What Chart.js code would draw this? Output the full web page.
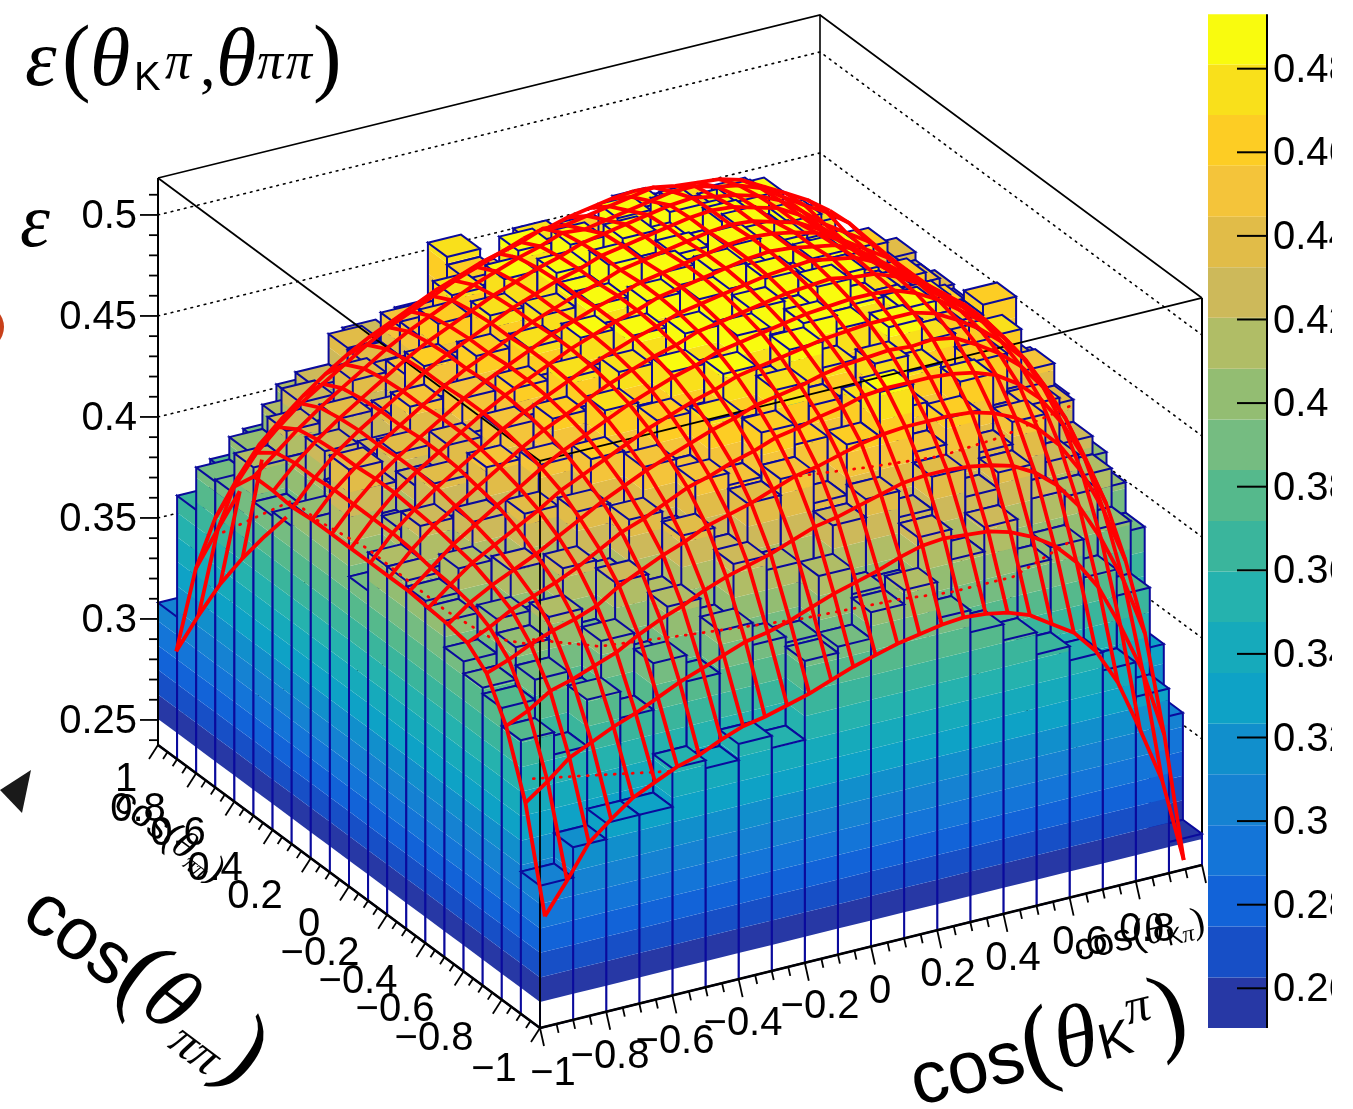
<!DOCTYPE html>
<html>
<head>
<meta charset="utf-8">
<script src="https://cdn.jsdelivr.net/npm/chart.js@4"></script>
<style>
html, body { margin: 0; padding: 0; background: #fff; overflow: hidden; }
canvas { display: block; }
</style>
</head>
<body>
<canvas id="lego" width="1353" height="1109"></canvas>
<script>
// bin edges of both cos axes
const binEdges = [-1,-0.9,-0.8,-0.7,-0.6,-0.5,-0.4,-0.3,-0.2,-0.1,0,0.1,0.2,0.3,0.4,0.5,0.6,0.7,0.8,0.9,1];

// efficiency per bin, one row per cos(theta_pipi) bin, one column per cos(theta_Kpi) bin
const binRows = [
[.308,.323,.331,.331,.350,.346,.354,.348,.387,.390,.403,.410,.392,.381,.373,.362,.355,.346,.329,.253],
[.373,.362,.385,.372,.395,.382,.403,.392,.389,.418,.405,.402,.425,.410,.422,.398,.404,.385,.372,.306],
[.382,.392,.378,.403,.388,.412,.398,.425,.418,.407,.432,.441,.428,.444,.430,.438,.421,.418,.398,.333],
[.385,.401,.412,.396,.421,.409,.436,.422,.444,.452,.436,.461,.483,.449,.462,.441,.452,.428,.417,.384],
[.391,.408,.401,.425,.415,.441,.428,.452,.446,.468,.458,.449,.471,.463,.452,.469,.444,.449,.426,.399],
[.404,.398,.421,.413,.442,.431,.456,.447,.471,.459,.478,.466,.458,.479,.471,.457,.468,.441,.437,.407],
[.407,.419,.409,.438,.428,.457,.445,.468,.462,.483,.472,.487,.474,.466,.486,.475,.455,.469,.448,.409],
[.410,.404,.431,.422,.451,.441,.470,.459,.481,.474,.491,.478,.489,.482,.473,.484,.468,.455,.445,.422],
[.410,.426,.418,.447,.437,.463,.456,.478,.471,.489,.482,.493,.485,.496,.483,.478,.476,.462,.467,.431],
[.391,.417,.436,.428,.455,.449,.472,.466,.485,.479,.495,.487,.497,.484,.490,.478,.463,.463,.440,.425],
[.444,.409,.428,.444,.438,.464,.458,.481,.476,.491,.484,.498,.490,.483,.492,.480,.467,.452,.445,.423],
[.406,.423,.437,.426,.456,.447,.473,.469,.486,.480,.494,.488,.499,.491,.480,.484,.461,.462,.440,.430],
[.406,.414,.429,.449,.441,.466,.461,.478,.483,.495,.486,.492,.484,.497,.486,.472,.473,.448,.448,.432],
[.395,.428,.419,.438,.458,.452,.475,.468,.488,.479,.497,.490,.482,.493,.482,.485,.462,.463,.443,.434],
[.393,.411,.433,.427,.447,.468,.457,.482,.474,.491,.484,.478,.495,.486,.492,.471,.472,.451,.442,.432],
[.410,.424,.416,.441,.432,.455,.471,.463,.485,.477,.468,.489,.480,.474,.482,.482,.461,.448,.441,.436],
[.390,.398,.427,.418,.438,.4525,.452,.468,.462,.478,.471,.461,.482,.469,.472,.475,.452,.442,.436,.425],
[.389,.400,.412,.424,.439,.418,.444,.472,.456,.448,.463,.466,.464,.458,.469,.455,.451,.436,.428,.420],
[.368,.382,.393,.411,.402,.431,.413,.428,.421,.437,.453,.441,.436,.448,.431,.439,.420,.410,.400,.400],
[.308,.336,.352,.368,.381,.389,.397,.392,.404,.412,.419,.445,.432,.421,.428,.450,.417,.405,.388,.330]
];

// fit surface, 20 lines along cos(theta_Kpi), 30 lines along cos(theta_pipi)
const fitKpi = [-.965,-.898,-.832,-.765,-.699,-.632,-.565,-.499,-.432,-.366,-.3,-.233,-.166,-.1,-.033,.034,.1,.167,.234,.3,.367,.433,.5,.566,.633,.7,.766,.833,.9,.965];
const fitPipi = [-.965,-.863,-.762,-.66,-.559,-.457,-.355,-.254,-.152,-.051,.051,.152,.254,.355,.457,.559,.66,.762,.863,.965];
const fitRows = [
[.289,.304,.320,.329,.337,.342,.347,.350,.355,.359,.361,.364,.367,.371,.375,.378,.381,.383,.385,.386,.385,.383,.379,.372,.365,.353,.335,.309,.281,.239],
[.338,.346,.355,.360,.365,.369,.374,.379,.383,.387,.391,.393,.396,.400,.404,.407,.410,.414,.417,.418,.417,.416,.413,.408,.401,.390,.375,.353,.328,.294],
[.369,.374,.381,.384,.388,.392,.398,.403,.407,.412,.416,.419,.422,.426,.430,.432,.435,.438,.441,.442,.442,.441,.439,.436,.430,.421,.408,.389,.366,.337],
[.388,.392,.397,.401,.404,.408,.415,.420,.425,.429,.434,.437,.440,.444,.448,.450,.453,.456,.458,.459,.459,.459,.458,.455,.450,.442,.431,.415,.393,.366],
[.396,.401,.407,.411,.415,.420,.426,.432,.436,.441,.446,.449,.453,.456,.460,.462,.465,.467,.470,.471,.471,.471,.470,.468,.464,.457,.447,.432,.412,.387],
[.398,.406,.412,.417,.422,.428,.434,.440,.445,.450,.454,.458,.462,.465,.469,.471,.473,.476,.478,.479,.480,.479,.480,.478,.472,.465,.456,.443,.425,.401],
[.399,.408,.416,.422,.428,.434,.441,.446,.451,.456,.461,.465,.469,.472,.476,.478,.480,.482,.484,.485,.486,.486,.486,.483,.477,.470,.461,.450,.433,.412],
[.400,.409,.418,.425,.432,.438,.445,.451,.456,.461,.466,.470,.474,.477,.481,.483,.485,.487,.489,.490,.491,.491,.490,.486,.480,.472,.464,.453,.439,.421],
[.400,.411,.420,.427,.434,.441,.448,.454,.459,.464,.469,.473,.477,.480,.484,.486,.488,.490,.492,.493,.494,.492,.491,.487,.481,.472,.464,.455,.442,.426],
[.400,.412,.421,.429,.436,.443,.450,.456,.461,.466,.471,.475,.479,.482,.486,.488,.490,.492,.494,.495,.496,.494,.492,.487,.480,.471,.463,.455,.443,.430],
[.400,.412,.422,.430,.437,.444,.451,.457,.462,.467,.472,.476,.480,.483,.487,.489,.491,.493,.495,.496,.495,.493,.491,.486,.478,.468,.461,.453,.442,.431],
[.400,.412,.422,.430,.437,.444,.451,.457,.462,.467,.472,.476,.480,.483,.487,.489,.491,.493,.495,.496,.495,.493,.490,.484,.475,.465,.458,.451,.441,.431],
[.400,.412,.421,.429,.436,.443,.450,.456,.461,.466,.471,.475,.479,.482,.486,.488,.490,.492,.494,.495,.494,.491,.488,.482,.473,.463,.456,.449,.439,.430],
[.399,.411,.421,.429,.436,.443,.450,.456,.461,.466,.471,.475,.479,.482,.486,.488,.490,.492,.494,.495,.494,.491,.488,.482,.473,.464,.457,.450,.440,.430],
[.400,.411,.420,.428,.435,.442,.449,.455,.460,.465,.470,.474,.478,.481,.485,.487,.489,.491,.493,.494,.492,.490,.487,.482,.474,.465,.458,.451,.440,.428],
[.400,.409,.418,.426,.433,.440,.447,.453,.458,.463,.468,.472,.476,.479,.483,.482,.484,.486,.488,.490,.490,.487,.485,.481,.474,.467,.461,.453,.441,.426],
[.388,.402,.412,.421,.428,.435,.442,.448,.453,.458,.463,.467,.471,.474,.478,.477,.479,.481,.483,.485,.483,.482,.481,.478,.472,.466,.460,.452,.437,.418],
[.365,.382,.396,.406,.415,.423,.430,.436,.441,.446,.451,.455,.459,.462,.466,.468,.471,.473,.475,.476,.474,.473,.472,.469,.465,.459,.453,.441,.424,.401],
[.333,.350,.366,.379,.388,.396,.404,.410,.415,.420,.425,.429,.433,.436,.440,.443,.445,.448,.450,.451,.452,.452,.451,.448,.443,.435,.425,.410,.389,.364],
[.285,.300,.313,.323,.331,.338,.346,.352,.358,.363,.368,.372,.375,.379,.383,.386,.389,.392,.395,.397,.397,.396,.394,.389,.381,.370,.356,.337,.312,.282]
];

// red dotted curves: Kpi, Pipi, z per point
const dotFrontKpi = [-1,-.587];
const dotFrontZ = [.3586,.3456];
const dotMidKpi = [-1,-.8,-.536,-.185,.117,.259,.449,.621];
const dotMidZ = [.4274,.416,.411,.405,.4026,.4,.4,.4105];
const dotBackKpi = [-.194,.008,.229,.41,.63];
const dotBackZ = [.476,.472,.4686,.4706,.4779];
const dotSidePipi = [-.903,-.678,-.443,-.243,-.034,.228,.354,.804];
const dotSideZ = [.419,.407,.404,.405,.406,.4016,.4026,.3516];

// colour levels of the z axis and the palette
const zLevels = [.2505,.2626,.2748,.2869,.2990,.3112,.3233,.3354,.3476,.3597,.3718,.3840,.3961,.4082,.4204,.4325,.4446,.4568,.4689,.4810,.4930];
const bandColors = ["#2738a5","#174fc6","#1263d8","#1475d8","#1582d2","#118fcc","#0ea2c6","#16aabb","#25b2ae","#3ab59c","#55b98c","#75bc81","#93bd72","#b0bd66","#cdb95a","#e1bc48","#f4c43a","#fdcd24","#f9e01b","#f9fb0e"];

const zTicks = [.25,.3,.35,.4,.45,.5];
const zTickLabels = ["0.25","0.3","0.35","0.4","0.45","0.5"];
const zMinorTicks = [.24,.26,.27,.28,.29,.31,.32,.33,.34,.36,.37,.38,.39,.41,.42,.43,.44,.46,.47,.48,.49,.51];
const axisTicks = [-1,-.8,-.6,-.4,-.2,0,.2,.4,.6,.8,1];
const axisMinorTicks = [-.95,-.9,-.85,-.75,-.7,-.65,-.55,-.5,-.45,-.35,-.3,-.25,-.15,-.1,-.05,.05,.1,.15,.25,.3,.35,.45,.5,.55,.65,.7,.75,.85,.9,.95];
const barTicks = [.26,.28,.3,.32,.34,.36,.38,.4,.42,.44,.46,.48];
const barTickLabels = ["0.26","0.28","0.3","0.32","0.34","0.36","0.38","0.4","0.42","0.44","0.46","0.48"];
const kpiTickLabels = ["\u22121","\u22120.8","\u22120.6","\u22120.4","\u22120.2","0","0.2","0.4","0.6","0.8"];
const pipiTickLabels = ["\u22121","\u22120.8","\u22120.6","\u22120.4","\u22120.2","0","0.2","0.4","0.6","0.8","1"];

const zFloor = 0.2376, zRoof = 0.5183;
const BLUE = "#0a0a9c";

// oblique view of the box, same on every side
function project(kpi, pipi, z) {
    const u = kpi + 1, v = pipi + 1;
    return {
        x: 540 + 331 * u - 191 * v,
        y: 1028 - 81.5 * u - 141.5 * v - (z - zFloor) * 2020
    };
}

function barY(v) {
    return 1028 - (v - 0.2505) * 4180;
}

const datasets = [];

function addFill(points, color) {
    datasets.push({
        data: points, fill: "shape", backgroundColor: color,
        borderWidth: 0, pointRadius: 0, showLine: true, clip: false
    });
}

function addLine(points, color, width, dash) {
    datasets.push({
        data: points, fill: false, borderColor: color, borderWidth: width,
        borderDash: dash || [], borderCapStyle: dash ? "round" : "butt",
        pointRadius: 0, showLine: true, clip: false
    });
}

function bandOf(z) {
    let b = 0;
    for (let k = 0; k < bandColors.length; k++) {
        if (z >= zLevels[k]) b = k;
    }
    return b;
}

// side of a bar split into the colour bands, white under the lowest level
function addFace(k0, p0, k1, p1, zLow, zHigh) {
    if (zLow < zLevels[0]) {
        const top = Math.min(zHigh, zLevels[0]);
        addFill([project(k0, p0, zLow), project(k1, p1, zLow), project(k1, p1, top), project(k0, p0, top)], "#ffffff");
    }
    for (let k = 0; k < bandColors.length; k++) {
        const a = Math.max(zLow, zLevels[k]);
        const b = k === bandColors.length - 1 ? zHigh : Math.min(zHigh, zLevels[k + 1]);
        if (b > a) {
            addFill([project(k0, p0, a), project(k1, p1, a), project(k1, p1, b), project(k0, p0, b)], bandColors[k]);
        }
    }
}

// back walls and dotted grid
zTicks.forEach(z => {
    addLine([project(-1, 1, z), project(1, 1, z), project(1, -1, z)], "#000000", 1.6, [1.6, 5.2]);
});
addLine([project(-1, 1, zRoof), project(1, 1, zRoof), project(1, -1, zRoof)], "#000000", 1.6);
addLine([project(1, 1, zFloor), project(1, 1, zRoof)], "#000000", 1.6);
addLine([project(1, -1, zFloor), project(1, -1, zRoof)], "#000000", 2);

// bars from the back corner to the front corner
for (let j = binRows.length - 1; j >= 0; j--) {
    for (let i = binRows[j].length - 1; i >= 0; i--) {
        const h = binRows[j][i];
        const kLo = binEdges[i], kHi = binEdges[i + 1], pLo = binEdges[j], pHi = binEdges[j + 1];
        const nbK = i > 0 ? binRows[j][i - 1] : zFloor;
        const nbP = j > 0 ? binRows[j - 1][i] : zFloor;
        const outline = [];
        if (h > nbK) {
            addFace(kLo, pHi, kLo, pLo, nbK, h);
            outline.push(project(kLo, pHi, nbK), project(kLo, pLo, nbK), project(kLo, pLo, h), project(kLo, pHi, h), project(kLo, pHi, nbK), { x: null, y: null });
        }
        if (h > nbP) {
            addFace(kLo, pLo, kHi, pLo, nbP, h);
            outline.push(project(kLo, pLo, nbP), project(kHi, pLo, nbP), project(kHi, pLo, h), project(kLo, pLo, h), project(kLo, pLo, nbP), { x: null, y: null });
        }
        const top = [project(kLo, pLo, h), project(kHi, pLo, h), project(kHi, pHi, h), project(kLo, pHi, h)];
        addFill(top, bandColors[bandOf(h)]);
        outline.push(top[0], top[1], top[2], top[3], top[0]);
        addLine(outline, BLUE, 2);
    }
}

// front of the box, on top of the bars
addLine([project(-1, -1, zRoof), project(-1, 1, zRoof)], "#000000", 1.8);
addLine([project(-1, -1, zRoof), project(1, -1, zRoof)], "#000000", 1.8);
addLine([project(-1, -1, zFloor), project(-1, -1, zRoof)], "#000000", 1.8);

// axes and ticks
addLine([project(-1, 1, zFloor), project(-1, 1, zRoof)], "#000000", 2);
addLine([project(-1, -1, zFloor), project(1, -1, zFloor)], "#000000", 2.6);
addLine([project(-1, -1, zFloor), project(-1, 1, zFloor)], "#000000", 2.6);

function tickFrom(p, dx, dy) {
    addLine([p, { x: p.x + dx, y: p.y + dy }], "#000000", 1.8);
}
zTicks.forEach(z => tickFrom(project(-1, 1, z), -18, 0));
zMinorTicks.forEach(z => tickFrom(project(-1, 1, z), -9, 0));
axisTicks.forEach(t => {
    tickFrom(project(t, -1, zFloor), 4, 18);
    tickFrom(project(-1, t, zFloor), -9, 14);
});
axisMinorTicks.forEach(t => {
    tickFrom(project(t, -1, zFloor), 2, 9);
    tickFrom(project(-1, t, zFloor), -4.5, 7);
});

// dotted red curves
addLine(dotFrontKpi.map((k, n) => project(k, -.965, dotFrontZ[n])), "#ff0000", 2.8, [1, 8]);
addLine(dotMidKpi.map((k, n) => project(k, -.965, dotMidZ[n])), "#ff0000", 2.8, [1, 8]);
addLine(dotBackKpi.map((k, n) => project(k, -.965, dotBackZ[n])), "#ff0000", 2.8, [1, 8]);
addLine(dotSidePipi.map((p, n) => project(-.965, p, dotSideZ[n])), "#ff0000", 2.8, [1, 8]);

// fit mesh: a cell facing away stays hidden only where a facing cell covers it
function cellCorners(m, n) {
    return [
        project(fitKpi[m], fitPipi[n], fitRows[n][m]),
        project(fitKpi[m + 1], fitPipi[n], fitRows[n][m + 1]),
        project(fitKpi[m + 1], fitPipi[n + 1], fitRows[n + 1][m + 1]),
        project(fitKpi[m], fitPipi[n + 1], fitRows[n + 1][m])
    ];
}

function cellFront(m, n) {
    if (m < 0 || n < 0 || m >= fitKpi.length - 1 || n >= fitPipi.length - 1) return false;
    const q = cellCorners(m, n);
    return (q[2].x - q[0].x) * (q[3].y - q[1].y) - (q[2].y - q[0].y) * (q[3].x - q[1].x) < 0;
}

const frontCells = [];
fitRows.forEach((row, n) => {
    row.forEach((z, m) => {
        if (cellFront(m, n)) frontCells.push(cellCorners(m, n));
    });
});

function covered(a, b) {
    const px = (a.x + b.x) / 2, py = (a.y + b.y) / 2;
    return frontCells.some(q => {
        let sign = 0;
        for (let c = 0; c < 4; c++) {
            const s = q[(c + 1) % 4];
            const cross = (s.x - q[c].x) * (py - q[c].y) - (s.y - q[c].y) * (px - q[c].x);
            if (sign !== 0 && cross * sign < 0) return false;
            if (cross !== 0) sign = cross;
        }
        return true;
    });
}

fitPipi.forEach((p, n) => {
    const pts = [];
    for (let m = 0; m < fitKpi.length - 1; m++) {
        const a = project(fitKpi[m], p, fitRows[n][m]), b = project(fitKpi[m + 1], p, fitRows[n][m + 1]);
        if (cellFront(m, n) || cellFront(m, n - 1) || !covered(a, b)) {
            pts.push(a, b);
        } else {
            pts.push({ x: null, y: null });
        }
    }
    addLine(pts, "#ff0000", 3.8);
});
fitKpi.forEach((k, m) => {
    const pts = [];
    for (let n = 0; n < fitPipi.length - 1; n++) {
        const a = project(k, fitPipi[n], fitRows[n][m]), b = project(k, fitPipi[n + 1], fitRows[n + 1][m]);
        if (cellFront(m, n) || cellFront(m - 1, n) || !covered(a, b)) {
            pts.push(a, b);
        } else {
            pts.push({ x: null, y: null });
        }
    }
    addLine(pts, "#ff0000", 3.8);
});

// palette bar
bandColors.forEach((c, k) => {
    addFill([{ x: 1208, y: barY(zLevels[k]) }, { x: 1267, y: barY(zLevels[k]) }, { x: 1267, y: barY(zLevels[k + 1]) }, { x: 1208, y: barY(zLevels[k + 1]) }], c);
});
addLine([{ x: 1267, y: barY(zLevels[0]) }, { x: 1267, y: barY(zLevels[20]) }], "#000000", 2);
barTicks.forEach(v => addLine([{ x: 1237, y: barY(v) }, { x: 1267, y: barY(v) }], "#000000", 2));

// stray marks at the left border of the page
datasets.push({ data: [{ x: -18, y: 327 }], pointRadius: 22, backgroundColor: "#c8401a", borderWidth: 0, showLine: false, clip: false });
addFill([{ x: 0, y: 790 }, { x: 31, y: 770 }, { x: 22, y: 813 }], "#1a1a1a");

datasets.reverse();

const SANS = '"Liberation Sans"';
const SERIF = '"Liberation Serif"';

// text running along a baseline, mixed fonts; a piece with "at" starts at that offset
function drawRun(ctx, x, y, angle, pieces) {
    ctx.save();
    ctx.translate(x, y);
    ctx.rotate(angle * Math.PI / 180);
    ctx.textAlign = "left";
    ctx.textBaseline = "alphabetic";
    let pos = 0;
    pieces.forEach(p => {
        if (p.at !== undefined) pos = p.at;
        ctx.font = p.font;
        ctx.fillText(p.text, pos, p.dy || 0);
        pos += ctx.measureText(p.text).width + (p.gap || 0);
    });
    ctx.restore();
}

const textPlugin = {
    id: "textPlugin",
    afterDraw(chart) {
        const ctx = chart.ctx;
        ctx.save();
        ctx.fillStyle = "#000000";

        // title
        drawRun(ctx, 0, 85, 0, [
            { text: "\u03b5", font: "italic 80px " + SERIF, at: 25 },
            { text: "(", font: "86px " + SERIF, at: 62 },
            { text: "\u03b8", font: "italic 82px " + SERIF, at: 90 },
            { text: "K", font: "40px " + SANS, dy: 5, at: 134 },
            { text: "\u03c0", font: "italic 52px " + SERIF, dy: -7, at: 165 },
            { text: ",", font: "62px " + SERIF, at: 200 },
            { text: "\u03b8", font: "italic 82px " + SERIF, at: 216 },
            { text: "\u03c0", font: "italic 52px " + SERIF, dy: -7, at: 257 },
            { text: "\u03c0", font: "italic 52px " + SERIF, dy: -7, at: 286 },
            { text: ")", font: "86px " + SERIF, at: 313 }
        ]);
        drawRun(ctx, 20, 246, 0, [{ text: "\u03b5", font: "italic 76px " + SERIF }]);

        // small axis titles that overlap the tick labels
        drawRun(ctx, 112, 806, 37, [
            { text: "cos(", font: "38px " + SANS },
            { text: "\u03b8", font: "italic 40px " + SERIF },
            { text: "\u03c0\u03c0", font: "italic 24px " + SERIF, dy: 6 },
            { text: ")", font: "38px " + SERIF }
        ]);
        drawRun(ctx, 1077, 961, -13, [
            { text: "cos(", font: "38px " + SANS },
            { text: "\u03b8", font: "italic 42px " + SERIF },
            { text: "K", font: "24px " + SANS, dy: 6 },
            { text: "\u03c0", font: "italic 24px " + SERIF, dy: 6 },
            { text: ")", font: "38px " + SERIF }
        ]);

        // big axis titles
        drawRun(ctx, 19, 920, 37, [
            { text: "cos", font: "74px " + SANS },
            { text: "(", font: "100px " + SERIF },
            { text: "\u03b8", font: "italic 88px " + SERIF, gap: 2 },
            { text: "\u03c0\u03c0", font: "italic 50px " + SERIF, dy: 12 },
            { text: ")", font: "100px " + SERIF }
        ]);
        drawRun(ctx, 917, 1106, -14, [
            { text: "cos", font: "74px " + SANS },
            { text: "(", font: "100px " + SERIF },
            { text: "\u03b8", font: "italic 88px " + SERIF },
            { text: "K", font: "50px " + SANS },
            { text: "\u03c0", font: "italic 50px " + SERIF, dy: -28 },
            { text: ")", font: "100px " + SERIF }
        ]);

        // tick labels
        ctx.font = "40px " + SANS;
        ctx.textBaseline = "middle";
        ctx.textAlign = "right";
        zTicks.forEach((z, n) => {
            const p = project(-1, 1, z);
            ctx.fillText(zTickLabels[n], 137, chart.scales.y.getPixelForValue(p.y) + 2);
        });
        ctx.textAlign = "center";
        const kpiSpots = [[553, 1074], [610, 1057], [675, 1042], [743, 1024], [820, 1007], [880, 992], [948, 975], [1013, 959], [1080, 943], [1147, 930]];
        kpiTickLabels.forEach((t, n) => ctx.fillText(t, kpiSpots[n][0], kpiSpots[n][1]));
        const pipiSpots = [[494, 1070], [434, 1039], [395, 1010], [358, 982], [320, 954], [309, 925], [255, 897], [215, 869], [178, 834], [138, 810], [126, 780]];
        pipiTickLabels.forEach((t, n) => ctx.fillText(t, pipiSpots[n][0], pipiSpots[n][1]));

        // palette labels, cut at the page crop
        ctx.save();
        ctx.beginPath();
        ctx.rect(1268, 0, 64, 1109);
        ctx.clip();
        ctx.textAlign = "left";
        barTicks.forEach((v, n) => ctx.fillText(barTickLabels[n], 1273, barY(v) + 2));
        ctx.restore();
        ctx.restore();
    }
};

new Chart(document.getElementById("lego").getContext("2d"), {
    type: "scatter",
    data: { datasets: datasets },
    options: {
        responsive: false,
        animation: false,
        events: [],
        layout: { padding: 0, autoPadding: false },
        elements: { line: { tension: 0 } },
        plugins: { legend: { display: false }, tooltip: { enabled: false }, title: { display: false } },
        scales: {
            x: { type: "linear", display: false, min: 0, max: 1353 },
            y: { type: "linear", display: false, min: 0, max: 1109, reverse: true }
        }
    },
    plugins: [textPlugin]
});
</script>
</body>
</html>
